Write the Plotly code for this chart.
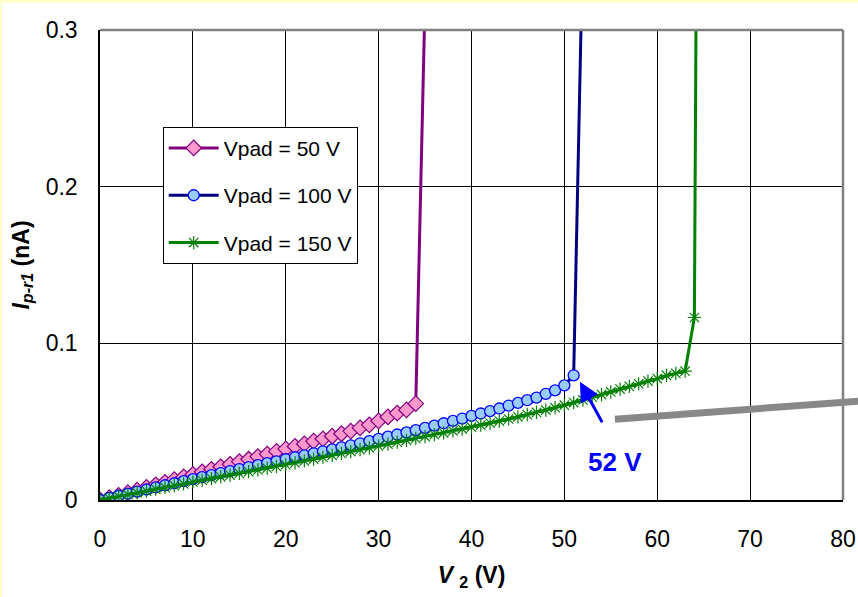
import plotly.graph_objects as go

# ---- data ----
v2_50 = list(range(0, 36))
i_50 = [0.0000, 0.0015, 0.0030, 0.0047, 0.0063, 0.0080, 0.0097, 0.0113, 0.0130, 0.0147,
        0.0163, 0.0180, 0.0196, 0.0212, 0.0228, 0.0245, 0.0260, 0.0277, 0.0293, 0.0310,
        0.0326, 0.0342, 0.0358, 0.0375, 0.0390, 0.0407, 0.0423, 0.0440, 0.0460, 0.0480,
        0.0505, 0.0530, 0.0555, 0.0575, 0.0615, 0.3200]

v2_100 = list(range(0, 53))
i_100 = [0.0000, 0.0013, 0.0027, 0.0040, 0.0054, 0.0067, 0.0080, 0.0094, 0.0107, 0.0120,
         0.0133, 0.0146, 0.0159, 0.0172, 0.0184, 0.0197, 0.0210, 0.0222, 0.0235, 0.0247,
         0.0260, 0.0273, 0.0285, 0.0298, 0.0310, 0.0323, 0.0336, 0.0349, 0.0362, 0.0376,
         0.0390, 0.0404, 0.0418, 0.0432, 0.0446, 0.0460, 0.0475, 0.0490, 0.0505, 0.0520,
         0.0537, 0.0552, 0.0567, 0.0584, 0.0603, 0.0620, 0.0637, 0.0654, 0.0678, 0.0700,
         0.0732, 0.0796, 0.3600]

v2_150 = list(range(0, 66))
i_150 = [0.0000, 0.0011, 0.0023, 0.0034, 0.0046, 0.0057, 0.0069, 0.0080, 0.0092, 0.0103,
         0.0115, 0.0126, 0.0137, 0.0148, 0.0159, 0.0170, 0.0181, 0.0192, 0.0203, 0.0214,
         0.0225, 0.0237, 0.0249, 0.0261, 0.0273, 0.0285, 0.0297, 0.0309, 0.0321, 0.0333,
         0.0345, 0.0357, 0.0369, 0.0381, 0.0393, 0.0405, 0.0417, 0.0429, 0.0441, 0.0453,
         0.0465, 0.0478, 0.0491, 0.0504, 0.0517, 0.0531, 0.0545, 0.0559, 0.0574, 0.0589,
         0.0605, 0.0622, 0.0639, 0.0656, 0.0673, 0.0690, 0.0708, 0.0725, 0.0742, 0.0759,
         0.0775, 0.0795, 0.0808, 0.0822, 0.1165, 1.2000]

series_names = ["Vpad = 50 V", "Vpad = 100 V", "Vpad = 150 V"]
x_ticks = [0, 10, 20, 30, 40, 50, 60, 70, 80]
y_ticks = [0, 0.1, 0.2, 0.3]
y_ticktext = ["0", "0.1", "0.2", "0.3"]

breakdown_label = "52 V"
breakdown_tip = (51.68, 0.0755)
label_pos = (55.45, 0.0243)

FONT = "Liberation Sans, Arial, sans-serif"

fig = go.Figure()

fig.add_trace(go.Scatter(
    x=v2_50, y=i_50, name=series_names[0], mode="lines+markers", legendgroup="a",
    line=dict(color="#800080", width=3),
    marker=dict(symbol="diamond", size=12, color="#FF99CC", line=dict(color="#800080", width=1.2)),
))
fig.add_trace(go.Scatter(
    x=v2_100, y=i_100, name=series_names[1], mode="lines+markers", legendgroup="b",
    line=dict(color="#000080", width=3),
    marker=dict(symbol="circle", size=11, color="#99CCFF", line=dict(color="#0000FF", width=1.3)),
))
fig.add_trace(go.Scatter(
    x=v2_150, y=i_150, name=series_names[2], mode="lines+markers", legendgroup="c",
    line=dict(color="#008000", width=3),
    marker=dict(symbol="asterisk-open", size=11, color="#008000", line=dict(color="#008000", width=1.2)),
))

# outer light-yellow frame with white inner panel
fig.add_shape(type="rect", xref="paper", yref="paper",
              x0=-0.1319, x1=1.05, y0=-0.25, y1=1.0574,
              fillcolor="white", line=dict(width=0), layer="below")

# gray top / right plot border
fig.add_shape(type="line", xref="paper", yref="paper", x0=0, x1=1, y0=1, y1=1,
              line=dict(color="#808080", width=2.5))
fig.add_shape(type="line", xref="paper", yref="paper", x0=1, x1=1, y0=0, y1=1,
              line=dict(color="#808080", width=2.5))

# thick gray bar (callout from slide)
fig.add_shape(type="line", xref="paper", yref="paper",
              x0=0.693, y0=0.1717, x1=1.04, y1=0.2125,
              line=dict(color="#888888", width=7))

# breakdown arrow + label
fig.add_annotation(x=breakdown_tip[0], y=breakdown_tip[1], xref="x", yref="y",
                   ax=23, ay=42, text="", showarrow=True,
                   arrowhead=2, arrowsize=1.3, arrowwidth=3, arrowcolor="#0000FF")
fig.add_annotation(x=label_pos[0], y=label_pos[1], xref="x", yref="y",
                   text="<b>" + breakdown_label + "</b>", showarrow=False,
                   font=dict(family=FONT, size=26, color="#0000FF"))

fig.update_layout(
    width=858, height=597,
    margin=dict(l=100, r=15, t=30, b=97),
    paper_bgcolor="#FFFFCC",
    plot_bgcolor="white",
    font=dict(family=FONT, color="black", size=22),
    showlegend=True,
    legend=dict(
        x=0.0844, y=0.794, xanchor="left", yanchor="top",
        bgcolor="white", bordercolor="black", borderwidth=1,
        font=dict(family=FONT, size=21, color="black"),
        traceorder="grouped", tracegroupgap=17, itemwidth=50,
    ),
    xaxis=dict(
        range=[0, 80], tickvals=x_ticks, showgrid=True, gridcolor="black", gridwidth=1,
        zeroline=False, showline=True, linecolor="black", linewidth=1.5,
        ticks="", ticklabelstandoff=18, automargin=False,
        tickfont=dict(family=FONT, size=23, color="black"),
        title=dict(text="<b><i>V</i></b> <b><sub>2</sub> (V)</b>",
                   font=dict(family=FONT, size=23, color="black"), standoff=16),
    ),
    yaxis=dict(
        range=[0, 0.3], tickvals=y_ticks, ticktext=y_ticktext, showgrid=True,
        gridcolor="black", gridwidth=1, zeroline=False, showline=True,
        linecolor="black", linewidth=1.5, ticks="", ticklabelstandoff=16,
        automargin=False,
        tickfont=dict(family=FONT, size=23, color="black"),
        title=dict(text="<b><i>I</i><sub><i>p-r1</i></sub> (nA)</b>",
                   font=dict(family=FONT, size=23, color="black"), standoff=10),
    ),
)

fig.write_html("out.html")
